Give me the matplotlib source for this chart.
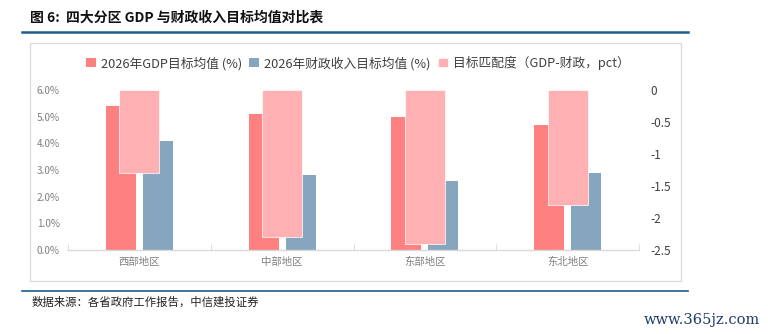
import matplotlib

matplotlib.use("Agg")
import matplotlib.pyplot as plt
from matplotlib.lines import Line2D
from matplotlib.patches import Rectangle
from matplotlib.ticker import FuncFormatter

plt.rcParams["font.family"] = ["Noto Sans CJK SC", "DejaVu Sans"]

# Datos.
regions = ["西部地区", "中部地区", "东部地区", "东北地区"]
gdp_target = [5.4, 5.1, 5.0, 4.7]
fiscal_target = [4.1, 2.8, 2.6, 2.9]
match_gap = [-1.3, -2.3, -2.4, -1.8]
right_ticks = [0, -0.5, -1, -1.5, -2, -2.5]
right_labels = ["0", "-0.5", "-1", "-1.5", "-2", "-2.5"]

GDP_COLOR = "#FF8080"
FISCAL_COLOR = "#85A6BE"
MATCH_COLOR = "#FFB0B2"

W, H = 768, 334
fig = plt.figure(figsize=(W / 100, H / 100), dpi=100)


def fx(px):
    return px / W


def fy(py):
    return 1 - py / H


# Título y líneas decorativas.
fig.text(fx(30), fy(18), "图 6:  四大分区 GDP 与财政收入目标均值对比表",
         fontsize=10, fontweight="bold", color="#111111", va="center")
fig.add_artist(Line2D([fx(22), fx(688)], [fy(31.5), fy(31.5)],
                      color="#1F5C8E", linewidth=1.8))
fig.add_artist(Rectangle((fx(30), fy(281)), fx(681) - fx(30), fy(43) - fy(281),
                         fill=False, edgecolor="#D9D9D9", linewidth=0.9))
fig.add_artist(Line2D([fx(22), fx(688)], [fy(291), fy(291)],
                      color="#1F5C8E", linewidth=1.2))
fig.text(fx(32), fy(302), "数据来源：各省政府工作报告，中信建投证券",
         fontsize=8.2, style="italic", color="#222222", va="center")
fig.text(fx(760), fy(320), "www.365jz.com", fontsize=10.5, family="DejaVu Serif",
         color="#1F3B6B", ha="right", va="center")

ax = fig.add_axes([fx(68), fy(250), fx(639) - fx(68), fy(90) - fy(250)])
ax2 = ax.twinx()

x = list(range(len(regions)))
bar_w = 0.21
offset = 0.13
ax.bar([i - offset for i in x], gdp_target, width=bar_w, color=GDP_COLOR,
       label="2026年GDP目标均值 (%)")
ax.bar([i + offset for i in x], fiscal_target, width=bar_w, color=FISCAL_COLOR,
       label="2026年财政收入目标均值 (%)")
ax2.bar(x, match_gap, width=0.28, color=MATCH_COLOR, edgecolor="white",
        linewidth=0.5, label="目标匹配度（GDP-财政，pct）")

ax.set_xlim(-0.5, len(regions) - 0.5)
ax.set_ylim(0, 6)
ax.set_yticks([0, 1, 2, 3, 4, 5, 6])
ax.yaxis.set_major_formatter(FuncFormatter(lambda v, _: f"{v:.1f}%"))
ax.tick_params(axis="y", length=0, labelsize=7.2, labelcolor="#7F7F7F", pad=6)
ax.set_xticks(x)
ax.set_xticklabels(regions, fontsize=7.5, color="#808080")
ax.tick_params(axis="x", length=0, pad=5)
# Marcas de separación entre categorías.
ax.set_xticks([i + 0.5 for i in x[:-1]] + [-0.5, len(regions) - 0.5], minor=True)
ax.tick_params(axis="x", which="minor", length=4, direction="in", color="#D9D9D9")

ax2.set_ylim(-2.5, 0)
ax2.set_yticks(right_ticks)
ax2.set_yticklabels(right_labels)
ax2.tick_params(axis="y", length=0, labelsize=8.5, labelcolor="#404040", pad=8)

for a in (ax, ax2):
    for side in ("top", "left", "right", "bottom"):
        a.spines[side].set_visible(False)
ax.spines["bottom"].set_visible(True)
ax.spines["bottom"].set_color("#D9D9D9")
ax.spines["bottom"].set_linewidth(1.0)

h1, l1 = ax.get_legend_handles_labels()
h2, l2 = ax2.get_legend_handles_labels()
fig.legend(h1 + h2, l1 + l2, loc="center left", bbox_to_anchor=(fx(86), fy(63)),
           ncol=3, frameon=False, fontsize=9.2, labelcolor="#404040",
           handlelength=0.75, handleheight=0.75, handletextpad=0.4,
           columnspacing=0.6, borderaxespad=0, borderpad=0)

fig.savefig("out.png", dpi=100)
